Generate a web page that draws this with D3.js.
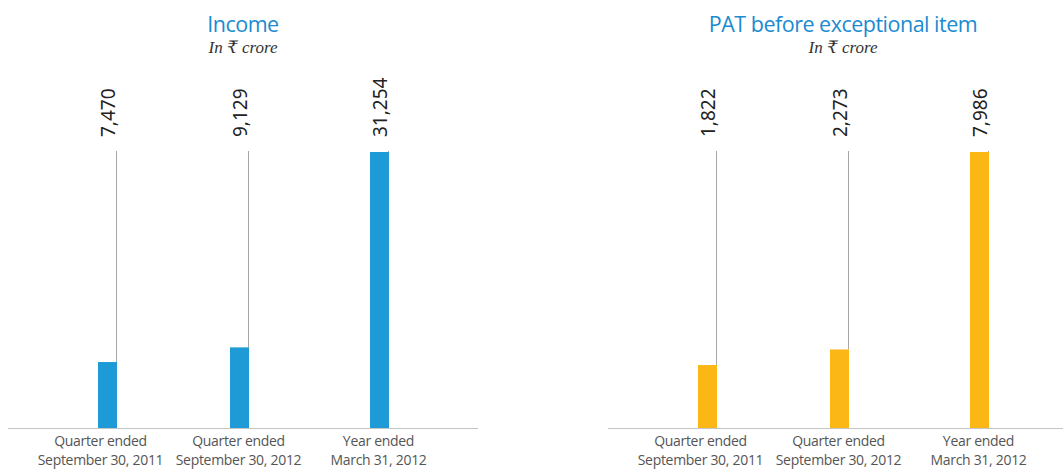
<!DOCTYPE html>
<html>
<head>
<meta charset="utf-8">
<script src="https://cdn.jsdelivr.net/npm/d3@7"></script>
<style>
  body { margin: 0; background: #fff; }
  svg { display: block; }
</style>
</head>
<body>
<svg width="1063" height="470"></svg>
<script>
// data
const categories = ["q2011", "q2012", "fy2012"];
const categoryLines = [
  ["Quarter ended", "September 30, 2011"],
  ["Quarter ended", "September 30, 2012"],
  ["Year ended", "March 31, 2012"]
];
const incomeValues = [7470, 9129, 31254];
const patValues = [1822, 2273, 7986];
const titles = ["Income", "PAT before exceptional item"];
const subtitle = "In \u20b9 crore";
const colors = ["#1e9ad6", "#fbb716"];

const svg = d3.select("svg");
const fmt = d3.format(",");

const baseY = 428, topY = 152, barW = 19;

function drawPanel(offset, title, values, color) {
  let g = svg.append("g").attr("transform", "translate(" + offset + ",0)");

  // bar centres are not evenly spaced in the original
  let x = d3.scaleOrdinal().domain(categories).range([107.5, 239.5, 379.5]);
  let y = d3.scaleLinear().domain([0, d3.max(values)]).range([baseY, topY]);

  // titles
  g.append("text")
    .attr("x", 243).attr("y", 32)
    .attr("text-anchor", "middle")
    .attr("font-family", "'Open Sans', sans-serif")
    .attr("font-size", 21.5)
    .attr("letter-spacing", -0.5)
    .attr("fill", "#1a8bd0")
    .text(title);
  g.append("text")
    .attr("x", 243).attr("y", 53)
    .attr("text-anchor", "middle")
    .attr("font-family", "'Liberation Serif', 'DejaVu Serif', serif")
    .attr("font-style", "italic")
    .attr("font-size", 17)
    .attr("fill", "#333")
    .text(subtitle);

  // baseline
  g.append("line")
    .attr("x1", 8).attr("x2", 478)
    .attr("y1", baseY + 0.5).attr("y2", baseY + 0.5)
    .attr("stroke", "#c4c4c4").attr("stroke-width", 1);

  // leader lines
  g.selectAll(".leader").data(values).enter()
    .append("line")
    .attr("class", "leader")
    .attr("x1", (d, i) => x(categories[i]) + barW / 2 - 0.5)
    .attr("x2", (d, i) => x(categories[i]) + barW / 2 - 0.5)
    .attr("y1", 151)
    .attr("y2", d => y(d))
    .attr("stroke", "#a6a6a6").attr("stroke-width", 1);

  // bars
  g.selectAll(".bar").data(values).enter()
    .append("rect")
    .attr("class", "bar")
    .attr("x", (d, i) => x(categories[i]) - barW / 2)
    .attr("y", d => y(d))
    .attr("width", barW)
    .attr("height", d => baseY - y(d))
    .attr("fill", color);

  // value labels
  g.selectAll(".val").data(values).enter()
    .append("text")
    .attr("class", "val")
    .attr("transform", (d, i) => "translate(" + (x(categories[i]) + 7.5) + ",137) rotate(-90)")
    .attr("font-family", "'Noto Sans', 'Open Sans', sans-serif")
    .attr("font-size", 19)
    .attr("fill", "#222")
    .text(d => fmt(d));

  // category labels
  let lab = g.selectAll(".cat").data(categories).enter()
    .append("text")
    .attr("class", "cat")
    .attr("text-anchor", "middle")
    .attr("font-family", "'Open Sans', sans-serif")
    .attr("font-size", 14)
    .attr("letter-spacing", -0.3)
    .attr("fill", "#555");
  lab.each(function (c, i) {
    let t = d3.select(this);
    let cx = i === 0 ? x(c) - 7 : x(c) - 1;
    categoryLines[i].forEach((s, k) => {
      t.append("tspan").attr("x", cx).attr("y", 446 + k * 19).text(s);
    });
  });
}

drawPanel(0, titles[0], incomeValues, colors[0]);
drawPanel(600, titles[1], patValues, colors[1]);
</script>
</body>
</html>
